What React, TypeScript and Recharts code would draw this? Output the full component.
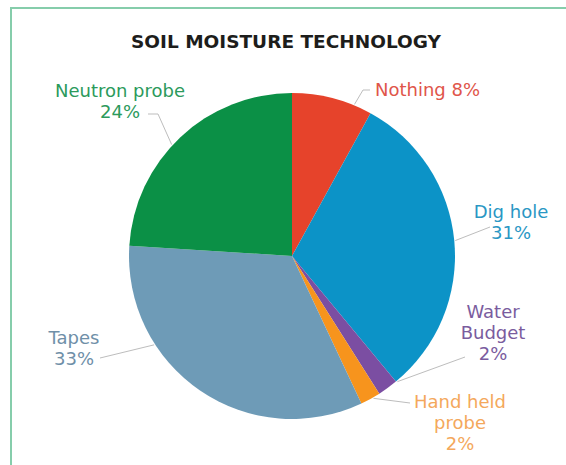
import { PieChart, Pie, Cell } from 'recharts';

// survey shares, clockwise from 12 o'clock
const categories = ['Nothing', 'Dig hole', 'Water Budget', 'Hand held probe', 'Tapes', 'Neutron probe'];
const shares = [8, 31, 2, 2, 33, 24];
const sliceColors = ['#e6432b', '#0c93c7', '#7b4ea2', '#f7941d', '#6e9bb7', '#0b9046'];
const labelColors = ['#e0554a', '#2a97c4', '#7a5c9e', '#f4a85c', '#6f8fa8', '#2c9a5c'];
// how each category name wraps in its callout
const nameLines = [['Nothing'], ['Dig hole'], ['Water', 'Budget'], ['Hand held', 'probe'], ['Tapes'], ['Neutron probe']];

const data = categories.map((name, i) => ({ name, value: shares[i] }));

const FONT = '"DejaVu Sans", sans-serif';
const LINE_H = 21;

// callout placement: text anchor, first baseline, elbow points, small angle nudge for the line start
const calloutLayout = [
  { x: 375, y: 96, anchor: 'start', inline: true, tilt: -8, path: [[363, 90], [370, 90]] },
  { x: 511, y: 218, anchor: 'middle', inline: false, tilt: 0, path: [[490, 227]] },
  { x: 493, y: 318, anchor: 'middle', inline: false, tilt: 4, path: [[465, 357]] },
  { x: 460, y: 408, anchor: 'middle', inline: false, tilt: 1, path: [[410, 403]] },
  { x: 74, y: 344, anchor: 'middle', inline: false, tilt: -23, path: [[100, 358]] },
  { x: 120, y: 97, anchor: 'middle', inline: false, tilt: 4, path: [[158, 114], [148, 114]] },
];

const RAD = Math.PI / 180;

function renderCallout(props: any) {
  const { cx, cy, midAngle, outerRadius, index, value } = props;
  const lay = calloutLayout[index];
  const a = (midAngle + lay.tilt) * RAD;
  const r = outerRadius + 1;
  const sx = cx + r * Math.cos(a);
  const sy = cy - r * Math.sin(a);
  const pts = [[sx, sy], ...lay.path].map((p) => p.join(',')).join(' ');
  const lines = lay.inline
    ? [`${nameLines[index][0]} ${value}%`]
    : [...nameLines[index], `${value}%`];
  return (
    <g key={`callout-${index}`}>
      <polyline points={pts} fill="none" stroke="#bdbdbd" strokeWidth={1} />
      {lines.map((t, j) => (
        <text
          key={j}
          x={lay.x}
          y={lay.y + j * LINE_H}
          textAnchor={lay.anchor}
          fill={labelColors[index]}
          fontFamily={FONT}
          fontSize={18}
        >
          {t}
        </text>
      ))}
    </g>
  );
}

export default function App() {
  return (
    <div
      style={{
        position: 'absolute',
        left: 0,
        top: 0,
        width: 566,
        height: 465,
        background: '#fff',
        overflow: 'hidden',
      }}
    >
      {/* panel frame, only top and left edges visible */}
      <div
        style={{
          position: 'absolute',
          left: 10,
          top: 7,
          width: 700,
          height: 600,
          borderTop: '2px solid #86cdab',
          borderLeft: '2px solid #86cdab',
        }}
      />
      <div
        style={{
          position: 'absolute',
          left: 0,
          top: 31,
          width: 572,
          textAlign: 'center',
          fontFamily: FONT,
          fontWeight: 700,
          fontSize: 18.5,
          lineHeight: '22px',
          color: '#1d1d1b',
        }}
      >
        SOIL MOISTURE TECHNOLOGY
      </div>
      <div style={{ position: 'absolute', left: 0, top: 0 }}>
        <PieChart width={566} height={465} margin={{ top: 0, right: 0, bottom: 0, left: 0 }}>
          <Pie
            data={data}
            dataKey="value"
            nameKey="name"
            cx={292}
            cy={256}
            outerRadius={163}
            startAngle={90}
            endAngle={-270}
            stroke="none"
            label={renderCallout}
            labelLine={false}
            isAnimationActive={false}
          >
            {data.map((d, i) => (
              <Cell key={d.name} fill={sliceColors[i]} />
            ))}
          </Pie>
        </PieChart>
      </div>
    </div>
  );
}
